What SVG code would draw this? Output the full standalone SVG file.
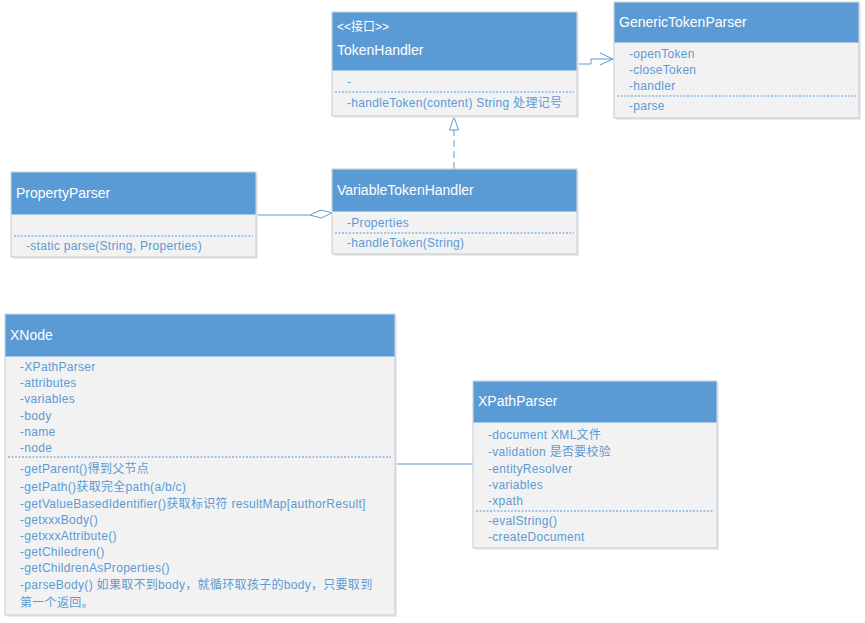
<svg xmlns="http://www.w3.org/2000/svg" width="865" height="623" viewBox="0 0 865 623">
<style>
.body{fill:#f2f2f2;stroke:#c9c9c9;stroke-width:1}
.shadow{fill:#e6ecf3}
.head{fill:#5b9bd5}
.ht{font-family:"Liberation Sans","Noto Sans CJK SC",sans-serif;font-size:14px;fill:#ffffff}
.st{font-family:"Liberation Sans","Noto Sans CJK SC",sans-serif;font-size:12px;fill:#ffffff}
.m{font-family:"Liberation Sans","Noto Sans CJK SC",sans-serif;font-size:12px;fill:#5b9bd5;letter-spacing:0.3px}
.dash{stroke:#5b9bd5;stroke-width:1;stroke-dasharray:2,1.5;fill:none}
.conn{stroke:#5b9bd5;stroke-width:1;fill:none}
</style>
<rect width="865" height="623" fill="#ffffff"/>
<g id="connectors">
<path class="conn" d="M577 64 H591 V59 H613"/>
<path class="conn" d="M600 53 L613 59 L600 65"/>
<path class="conn" d="M454 169 V130" stroke-dasharray="7,4" stroke-width="1.5"/>
<path d="M454 117 L458.5 130 L449.5 130 Z" fill="#ffffff" stroke="#5b9bd5" stroke-width="1"/>
<path class="conn" d="M256 215 H310" stroke="#9dc3e6" stroke-width="1.5"/>
<path d="M310 215 L321 210 L332 213 L321 218 Z" fill="#ffffff" stroke="#5b9bd5" stroke-width="1"/>
<path class="conn" d="M395 464 H473" stroke="#9dc3e6" stroke-width="1.5"/>
</g>
<g id="TokenHandler">
<rect class="shadow" x="334" y="14" width="245" height="104"/>
<rect class="body" x="332" y="12" width="245" height="104"/>
<rect class="head" x="332.5" y="12.5" width="244" height="58"/>
<text class="st" x="337" y="31">&lt;&lt;接口&gt;&gt;</text>
<text class="ht" x="337" y="55">TokenHandler</text>
<text class="m" x="347" y="86">-</text>
<line class="dash" x1="335" y1="92" x2="574" y2="92"/>
<text class="m" x="347" y="107">-handleToken(content) String  处理记号</text>
</g>
<g id="GenericTokenParser">
<rect class="shadow" x="616" y="4" width="245" height="116"/>
<rect class="body" x="614" y="2" width="245" height="116"/>
<rect class="head" x="614.5" y="2.5" width="244" height="40"/>
<text class="ht" x="619" y="27">GenericTokenParser</text>
<text class="m" x="629" y="58">-openToken</text>
<text class="m" x="629" y="74">-closeToken</text>
<text class="m" x="629" y="90">-handler</text>
<line class="dash" x1="617" y1="96" x2="856" y2="96"/>
<text class="m" x="629" y="110">-parse</text>
</g>
<g id="PropertyParser">
<rect class="shadow" x="13" y="174" width="245" height="85"/>
<rect class="body" x="11" y="172" width="245" height="85"/>
<rect class="head" x="11.5" y="172.5" width="244" height="42"/>
<text class="ht" x="16" y="198">PropertyParser</text>
<line class="dash" x1="14" y1="236" x2="253" y2="236"/>
<text class="m" x="26" y="250">-static parse(String, Properties)</text>
</g>
<g id="VariableTokenHandler">
<rect class="shadow" x="334" y="171" width="245" height="85"/>
<rect class="body" x="332" y="169" width="245" height="85"/>
<rect class="head" x="332.5" y="169.5" width="244" height="42"/>
<text class="ht" x="337" y="195">VariableTokenHandler</text>
<text class="m" x="347" y="227">-Properties</text>
<line class="dash" x1="335" y1="233" x2="574" y2="233"/>
<text class="m" x="347" y="247">-handleToken(String)</text>
</g>
<g id="XNode">
<rect class="shadow" x="7" y="316" width="390" height="301"/>
<rect class="body" x="5" y="314" width="390" height="301"/>
<rect class="head" x="5.5" y="314.5" width="389" height="42"/>
<text class="ht" x="10" y="340">XNode</text>
<text class="m" x="20" y="371">-XPathParser</text>
<text class="m" x="20" y="387">-attributes</text>
<text class="m" x="20" y="403">-variables</text>
<text class="m" x="20" y="420">-body</text>
<text class="m" x="20" y="436">-name</text>
<text class="m" x="20" y="452">-node</text>
<line class="dash" x1="8" y1="457" x2="391" y2="457"/>
<text class="m" x="20" y="473">-getParent()得到父节点</text>
<text class="m" x="20" y="491">-getPath()获取完全path(a/b/c)</text>
<text class="m" x="20" y="508">-getValueBasedIdentifier()获取标识符 resultMap[authorResult]</text>
<text class="m" x="20" y="524">-getxxxBody()</text>
<text class="m" x="20" y="540">-getxxxAttribute()</text>
<text class="m" x="20" y="556">-getChiledren()</text>
<text class="m" x="20" y="572">-getChildrenAsProperties()</text>
<text class="m" x="20" y="589">-parseBody() 如果取不到body，就循环取孩子的body，只要取到</text>
<text class="m" x="20" y="607">第一个返回。</text>
</g>
<g id="XPathParser">
<rect class="shadow" x="475" y="383" width="244" height="167"/>
<rect class="body" x="473" y="381" width="244" height="167"/>
<rect class="head" x="473.5" y="381.5" width="243" height="41"/>
<text class="ht" x="478" y="406">XPathParser</text>
<text class="m" x="488" y="439">-document XML文件</text>
<text class="m" x="488" y="456">-validation 是否要校验</text>
<text class="m" x="488" y="473">-entityResolver</text>
<text class="m" x="488" y="489">-variables</text>
<text class="m" x="488" y="505">-xpath</text>
<line class="dash" x1="476" y1="511" x2="714" y2="511"/>
<text class="m" x="488" y="525">-evalString()</text>
<text class="m" x="488" y="541">-createDocument</text>
</g>
</svg>
